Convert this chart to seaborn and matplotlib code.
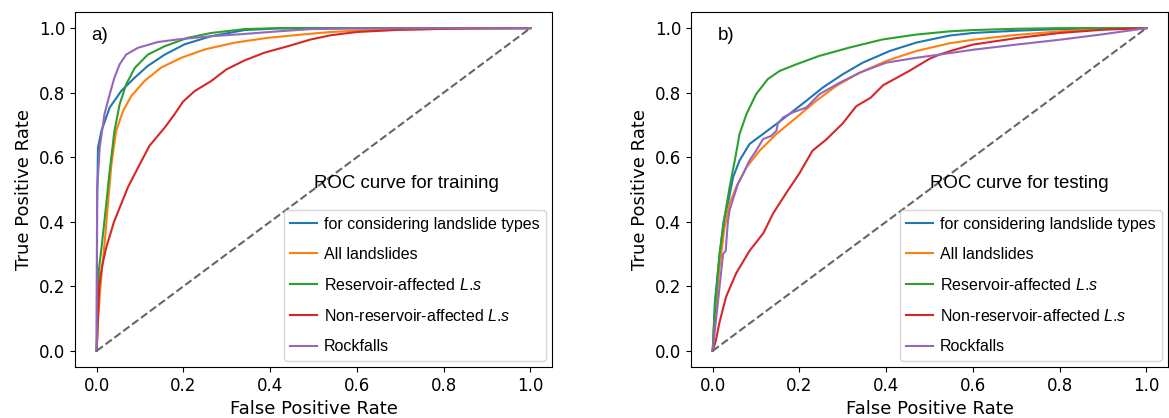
import pandas as pd
import matplotlib.pyplot as plt
import seaborn as sns

# -------------------
# ROC curve data
# -------------------
labels = [
    "for considering landslide types",
    "All landslides",
    "Reservoir-affected $\\mathit{L}$.$\\mathit{s}$",
    "Non-reservoir-affected $\\mathit{L}$.$\\mathit{s}$",
    "Rockfalls",
]
colors = ["#1f77b4", "#ff7f0e", "#2ca02c", "#d62728", "#9467bd"]
chance_fpr = [0.0, 1.0]
chance_tpr = [0.0, 1.0]

# a) training
train_cons_fpr = [0, 0.001, 0.003, 0.011, 0.03, 0.057, 0.088, 0.118, 0.157, 0.203, 0.264, 0.341, 0.418, 0.6, 1.0]
train_cons_tpr = [0, 0.45, 0.63, 0.682, 0.754, 0.806, 0.847, 0.883, 0.918, 0.95, 0.975, 0.994, 0.999, 1.0, 1.0]

train_all_fpr = [0, 0.003, 0.01, 0.02, 0.026, 0.034, 0.045, 0.061, 0.08, 0.111, 0.149, 0.195, 0.249, 0.318, 0.395, 0.472, 0.54, 0.6, 0.7, 0.8, 1.0]
train_all_tpr = [0, 0.1, 0.22, 0.36, 0.456, 0.578, 0.682, 0.744, 0.79, 0.837, 0.878, 0.908, 0.934, 0.955, 0.97, 0.98, 0.988, 0.992, 0.995, 0.998, 1.0]

train_res_fpr = [0, 0.002, 0.005, 0.012, 0.018, 0.03, 0.041, 0.053, 0.068, 0.088, 0.118, 0.157, 0.21, 0.264, 0.341, 0.418, 1.0]
train_res_tpr = [0, 0.12, 0.25, 0.33, 0.404, 0.558, 0.682, 0.764, 0.826, 0.877, 0.918, 0.944, 0.97, 0.985, 0.997, 1.0, 1.0]

train_non_fpr = [0, 0.003, 0.006, 0.012, 0.022, 0.04, 0.072, 0.1, 0.122, 0.157, 0.18, 0.199, 0.226, 0.264, 0.299, 0.341, 0.387,
                 0.441, 0.494, 0.54, 0.6, 0.7, 0.85, 1.0]
train_non_tpr = [0, 0.1, 0.2, 0.26, 0.32, 0.4, 0.507, 0.58, 0.636, 0.692, 0.734, 0.772, 0.805, 0.836, 0.872, 0.9, 0.924,
                 0.944, 0.965, 0.978, 0.988, 0.995, 0.999, 1.0]

train_rock_fpr = [0, 0.001, 0.007, 0.018, 0.03, 0.041, 0.053, 0.068, 0.095, 0.141, 0.187, 0.264, 0.341, 0.418, 0.494, 0.6, 1.0]
train_rock_tpr = [0, 0.5, 0.63, 0.734, 0.795, 0.847, 0.888, 0.918, 0.939, 0.957, 0.965, 0.975, 0.982, 0.99, 0.997, 0.999, 1.0]

# b) testing
test_cons_fpr = [0, 0.005, 0.016, 0.025, 0.035, 0.047, 0.062, 0.085, 0.116, 0.147, 0.177, 0.216, 0.254, 0.3, 0.346, 0.408,
                 0.469, 0.546, 0.6, 0.7, 0.8, 1.0]
test_cons_tpr = [0, 0.15, 0.3, 0.4, 0.456, 0.538, 0.59, 0.641, 0.672, 0.703, 0.734, 0.775, 0.816, 0.857, 0.893, 0.929,
                 0.955, 0.977, 0.985, 0.992, 0.997, 1.0]

test_all_fpr = [0, 0.005, 0.015, 0.027, 0.039, 0.054, 0.078, 0.108, 0.147, 0.193, 0.239, 0.285, 0.339, 0.4, 0.469, 0.546,
                0.6, 0.7, 0.8, 0.9, 1.0]
test_all_tpr = [0, 0.1, 0.25, 0.38, 0.456, 0.507, 0.569, 0.62, 0.672, 0.723, 0.775, 0.821, 0.862, 0.898, 0.929, 0.953,
                0.964, 0.979, 0.99, 0.997, 1.0]

test_res_fpr = [0, 0.006, 0.016, 0.028, 0.039, 0.051, 0.062, 0.078, 0.1, 0.127, 0.154, 0.193, 0.246, 0.316, 0.392, 0.469,
                0.546, 0.6, 0.7, 0.8, 1.0]
test_res_tpr = [0, 0.15, 0.3, 0.42, 0.507, 0.59, 0.672, 0.734, 0.795, 0.842, 0.867, 0.888, 0.914, 0.94, 0.965, 0.98,
                0.99, 0.994, 0.998, 1.0, 1.0]

test_non_fpr = [0, 0.007, 0.016, 0.031, 0.054, 0.085, 0.117, 0.139, 0.17, 0.2, 0.23, 0.262, 0.3, 0.331, 0.364, 0.393,
                0.454, 0.5, 0.523, 0.55, 0.6, 0.7, 0.8, 0.9, 1.0]
test_non_tpr = [0, 0.03, 0.09, 0.168, 0.24, 0.31, 0.365, 0.425, 0.49, 0.55, 0.62, 0.655, 0.705, 0.758, 0.784, 0.823,
                0.868, 0.905, 0.918, 0.93, 0.949, 0.969, 0.985, 0.995, 1.0]

test_rock_fpr = [0, 0.008, 0.016, 0.024, 0.03, 0.035, 0.039, 0.058, 0.07, 0.085, 0.1, 0.116, 0.135, 0.147, 0.15, 0.162,
                 0.185, 0.216, 0.246, 0.293, 0.339, 0.4, 0.469, 0.523, 0.6, 0.7, 0.8, 0.9, 1.0]
test_rock_tpr = [0, 0.1, 0.2, 0.3, 0.31, 0.4, 0.436, 0.517, 0.548, 0.59, 0.62, 0.656, 0.666, 0.682, 0.703, 0.723,
                 0.739, 0.754, 0.795, 0.831, 0.862, 0.893, 0.908, 0.918, 0.933, 0.949, 0.964, 0.981, 1.0]


def long_table(curves):
    frames = []
    for lab, (fpr, tpr) in zip(labels, curves):
        frames.append(pd.DataFrame({"fpr": fpr, "tpr": tpr, "model": lab}))
    return pd.concat(frames, ignore_index=True)


df_train = long_table([(train_cons_fpr, train_cons_tpr), (train_all_fpr, train_all_tpr),
                       (train_res_fpr, train_res_tpr), (train_non_fpr, train_non_tpr),
                       (train_rock_fpr, train_rock_tpr)])
df_test = long_table([(test_cons_fpr, test_cons_tpr), (test_all_fpr, test_all_tpr),
                      (test_res_fpr, test_res_tpr), (test_non_fpr, test_non_tpr),
                      (test_rock_fpr, test_rock_tpr)])

# -------------------
# plotting
# -------------------
plt.rcParams['mathtext.fontset'] = 'custom'
plt.rcParams['mathtext.rm'] = 'Liberation Sans'
plt.rcParams['mathtext.it'] = 'Liberation Sans:italic'

fig = plt.figure(figsize=(11.69, 4.18), dpi=100)
ax_a = fig.add_axes([75 / 1169, 51 / 418, 477 / 1169, 355 / 418])
ax_b = fig.add_axes([691 / 1169, 51 / 418, 477 / 1169, 355 / 418])

panels = [(ax_a, df_train, "a)", 0.034, "ROC curve for training"),
          (ax_b, df_test, "b)", 0.057, "ROC curve for testing")]

for ax, data, tag, tag_x, title in panels:
    sns.lineplot(data=data, x="fpr", y="tpr", hue="model", hue_order=labels,
                 palette=colors, estimator=None, sort=False, linewidth=1.5, ax=ax)
    sns.lineplot(x=chance_fpr, y=chance_tpr, color="0.4", linestyle="--",
                 linewidth=1.5, ax=ax)
    handles, labs = ax.get_legend_handles_labels()
    ax.legend(handles[:5], labs[:5], loc="lower right",
              prop={"family": "Liberation Sans", "size": 11.5},
              labelspacing=0.95, handlelength=1.7, handletextpad=0.4,
              borderaxespad=0.4)
    ax.text(tag_x, 0.935, tag, transform=ax.transAxes, fontsize=13.5,
            family="Liberation Sans", va="center")
    ax.text(0.50, 0.518, title, transform=ax.transAxes, fontsize=13.4,
            family="Liberation Sans", va="center")
    ax.set_xlabel("False Positive Rate", fontsize=13)
    ax.set_ylabel("True Positive Rate", fontsize=13)
    ax.tick_params(labelsize=12)
    ax.set_xticks([0, 0.2, 0.4, 0.6, 0.8, 1.0])
    ax.set_yticks([0, 0.2, 0.4, 0.6, 0.8, 1.0])
    ax.set_xlim(-0.05, 1.05)
    ax.set_ylim(-0.05, 1.05)

fig.savefig("out.png", dpi=100)
